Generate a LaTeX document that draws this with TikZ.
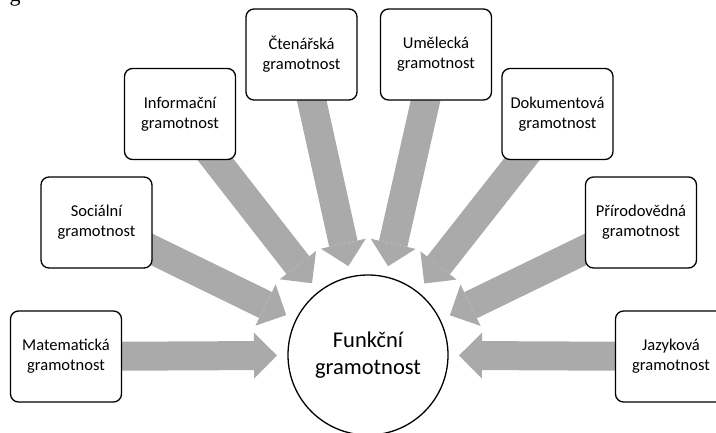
\documentclass[tikz,border=0pt]{standalone}
\usepackage{fontspec}
\setmainfont{Carlito}
\newfontfamily\serifg{Liberation Serif}
\usetikzlibrary{arrows.meta, backgrounds}
\definecolor{arrowgray}{RGB}{170,170,170}
\tikzset{
	litbox/.style={draw, line width=1.3pt, rounded corners=8pt, fill=white,
		minimum width=111pt, minimum height=91pt, align=center, inner sep=2pt,
		font=\fontsize{16.5}{20}\selectfont},
	hub/.style={draw, circle, line width=1.3pt, fill=white, minimum size=160pt,
		align=center, font=\fontsize{22.5}{27}\selectfont},
	flow/.style={draw=arrowgray, line width=29pt,
		-{Triangle[width=46pt,length=23pt,line width=0pt]}, shorten >=91pt}
}

\begin{document}
\begin{tikzpicture}[x=1pt, y=-1pt]
	
	% Frame of the page
	\useasboundingbox (0,0) rectangle (716,432);
	
	% Cut-off letter at the top edge
	\node[anchor=base, inner sep=0pt, font=\serifg\fontsize{22}{22}\selectfont] (gcut) at (15,1) {g};
	
	% Centre
	\node[hub] (fun) at (368,355) {Funkční\\gramotnost};
	
	% Literacies
	\node[litbox] (mat) at (66,356.5) {Matematická\\gramotnost};
	\node[litbox] (soc) at (96.5,222.5) {Sociální\\gramotnost};
	\node[litbox] (inf) at (180,114) {Informační\\gramotnost};
	\node[litbox] (cte) at (301.5,54.5) {Čtenářská\\gramotnost};
	\node[litbox] (ume) at (436,54.5) {Umělecká\\gramotnost};
	\node[litbox] (dok) at (557.5,114) {Dokumentová\\gramotnost};
	\node[litbox] (pri) at (641,222.5) {Přírodovědná\\gramotnost};
	\node[litbox] (jaz) at (671,356.5) {Jazyková\\gramotnost};
	
	% Block arrows (behind the boxes)
	\begin{scope}[on background layer]
		\draw[flow] (mat.center) -- (fun.center);
		\draw[flow] (soc.center) -- (fun.center);
		\draw[flow] (inf.center) -- (fun.center);
		\draw[flow] (cte.center) -- (fun.center);
		\draw[flow] (ume.center) -- (fun.center);
		\draw[flow] (dok.center) -- (fun.center);
		\draw[flow] (pri.center) -- (fun.center);
		\draw[flow] (jaz.center) -- (fun.center);
	\end{scope}
	
\end{tikzpicture}
\end{document}
